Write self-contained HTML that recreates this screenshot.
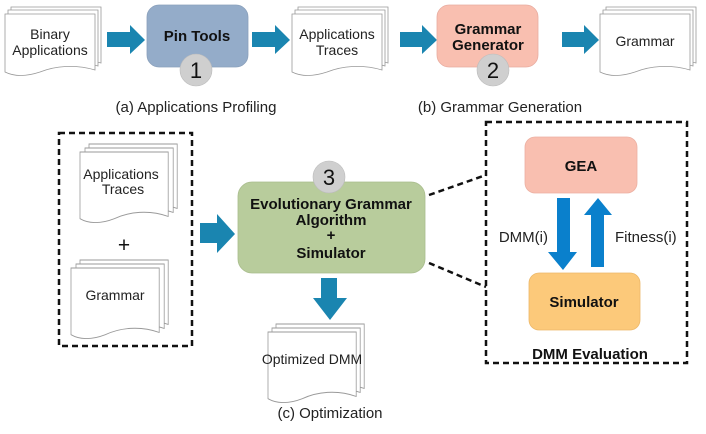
<!DOCTYPE html>
<html><head><meta charset="utf-8"><style>
html,body{margin:0;padding:0;background:#fff}
svg{display:block;font-family:"Liberation Sans",Arial,sans-serif}
</style></head><body>
<svg width="706" height="434" viewBox="0 0 706 434" xmlns="http://www.w3.org/2000/svg">
<defs>
<g id="page"><path d="M0,0 H90 V56 C70,50 50,52 35,58 C20,63 8,62 0,58 Z" fill="#fff" stroke="#999" stroke-width="0.8"/></g>
</defs>
<g transform="translate(11,7)"><use href="#page"/></g>
<g transform="translate(8,10)"><use href="#page"/></g>
<g transform="translate(5,14)"><use href="#page"/></g>
<text x="50" y="39" font-size="14" text-anchor="middle" fill="#222">Binary</text>
<text x="50" y="55" font-size="14" text-anchor="middle" fill="#222">Applications</text>

<g transform="translate(298,7)"><use href="#page"/></g>
<g transform="translate(295,10)"><use href="#page"/></g>
<g transform="translate(292,14)"><use href="#page"/></g>
<text x="337" y="39" font-size="14" text-anchor="middle" fill="#222">Applications</text>
<text x="337" y="55" font-size="14" text-anchor="middle" fill="#222">Traces</text>

<g transform="translate(606,7)"><use href="#page"/></g>
<g transform="translate(603,10)"><use href="#page"/></g>
<g transform="translate(600,14)"><use href="#page"/></g>
<text x="645" y="46" font-size="14" text-anchor="middle" fill="#222">Grammar</text>

<g fill="#1a85b0">
<path d="M107,32 H130 V25 L145,40 L130,54 V47 H107 Z"/>
<path d="M252,32 H275 V25 L290,40 L275,54 V47 H252 Z"/>
<path d="M400,32 H422 V25 L437,40 L422,54 V47 H400 Z"/>
<path d="M562,32 H584 V25 L599,40 L584,54 V47 H562 Z"/>
</g>

<rect x="147" y="5" width="101" height="62" rx="12" fill="#94acc9" stroke="#8aa0bb" stroke-width="0.8"/>
<text x="197" y="41" font-size="15" font-weight="bold" text-anchor="middle" fill="#111">Pin Tools</text>
<circle cx="196" cy="70" r="16" fill="#cfcfcf" stroke="#bbb" stroke-width="0.6"/>
<text x="196" y="78" font-size="22" text-anchor="middle" fill="#111">1</text>

<rect x="437" y="5" width="101" height="62" rx="12" fill="#f9bfb0" stroke="#e8aca0" stroke-width="0.8"/>
<text x="488" y="34" font-size="15" font-weight="bold" text-anchor="middle" fill="#111">Grammar</text>
<text x="488" y="50" font-size="15" font-weight="bold" text-anchor="middle" fill="#111">Generator</text>
<circle cx="493" cy="70" r="16" fill="#cfcfcf" stroke="#bbb" stroke-width="0.6"/>
<text x="493" y="78" font-size="22" text-anchor="middle" fill="#111">2</text>

<text x="196" y="112" font-size="15" text-anchor="middle" fill="#222">(a) Applications Profiling</text>
<text x="500" y="112" font-size="15" text-anchor="middle" fill="#222">(b) Grammar Generation</text>

<rect x="59" y="133" width="133" height="213" fill="none" stroke="#111" stroke-width="2.5" stroke-dasharray="6,4"/>
<g transform="translate(89,144)"><use href="#page" transform="scale(0.98,1.15)"/></g>
<g transform="translate(85,148)"><use href="#page" transform="scale(0.98,1.15)"/></g>
<g transform="translate(80,152)"><use href="#page" transform="scale(0.98,1.15)"/></g>
<text x="121" y="179" font-size="14" text-anchor="middle" fill="#222">Applications</text>
<text x="123" y="194" font-size="14" text-anchor="middle" fill="#222">Traces</text>
<text x="124" y="252" font-size="21" text-anchor="middle" fill="#111">+</text>
<g transform="translate(80,260)"><use href="#page" transform="scale(0.98,1.15)"/></g>
<g transform="translate(76,264)"><use href="#page" transform="scale(0.98,1.15)"/></g>
<g transform="translate(71,268)"><use href="#page" transform="scale(0.98,1.15)"/></g>
<text x="115" y="300" font-size="14" text-anchor="middle" fill="#222">Grammar</text>

<path d="M200,223 H217 V214 L235,234 L217,253 V243 H200 Z" fill="#1a85b0"/>

<rect x="238" y="182" width="187" height="91" rx="14" fill="#b8cc9c" stroke="#a8bc8c" stroke-width="0.8"/>
<circle cx="329" cy="177" r="16" fill="#cfcfcf" stroke="#bbb" stroke-width="0.6"/>
<text x="329" y="185" font-size="22" text-anchor="middle" fill="#111">3</text>
<text x="331" y="209" font-size="15" font-weight="bold" text-anchor="middle" fill="#111">Evolutionary Grammar</text>
<text x="331" y="225" font-size="15" font-weight="bold" text-anchor="middle" fill="#111">Algorithm</text>
<text x="331" y="240" font-size="15" font-weight="bold" text-anchor="middle" fill="#111">+</text>
<text x="331" y="258" font-size="15" font-weight="bold" text-anchor="middle" fill="#111">Simulator</text>

<path d="M321,278 H337 V298 H347 L330,320 L313,298 H321 Z" fill="#1a85b0"/>

<g transform="translate(276,324)"><use href="#page" transform="scale(0.98,1.15)"/></g>
<g transform="translate(272,328)"><use href="#page" transform="scale(0.98,1.15)"/></g>
<g transform="translate(268,332)"><use href="#page" transform="scale(0.98,1.15)"/></g>
<text x="312" y="364" font-size="14" text-anchor="middle" fill="#222">Optimized DMM</text>
<text x="330" y="418" font-size="15" text-anchor="middle" fill="#222">(c) Optimization</text>

<line x1="429" y1="195" x2="486" y2="175" stroke="#111" stroke-width="2.5" stroke-dasharray="6,4"/>
<line x1="429" y1="263" x2="486" y2="287" stroke="#111" stroke-width="2.5" stroke-dasharray="6,4"/>
<rect x="486" y="122" width="201" height="241" fill="none" stroke="#111" stroke-width="2.5" stroke-dasharray="6,4"/>

<rect x="525" y="137" width="112" height="56" rx="10" fill="#f9bfb0" stroke="#ecb0a2" stroke-width="0.8"/>
<text x="581" y="171" font-size="15" font-weight="bold" text-anchor="middle" fill="#111">GEA</text>
<rect x="529" y="273" width="111" height="57" rx="10" fill="#fcc97a" stroke="#ecb86a" stroke-width="0.8"/>
<text x="584" y="307" font-size="15" font-weight="bold" text-anchor="middle" fill="#111">Simulator</text>

<path d="M557,198 H570 V252 H577 L563,270 L548,252 H557 Z" fill="#0a80cc"/>
<path d="M591,267 H604 V215 H612 L598,198 L584,215 H591 Z" fill="#0a80cc"/>
<text x="548" y="242" font-size="15" text-anchor="end" fill="#222">DMM(i)</text>
<text x="615" y="242" font-size="15" fill="#222">Fitness(i)</text>
<text x="590" y="359" font-size="15" font-weight="bold" text-anchor="middle" fill="#111">DMM Evaluation</text>
</svg>
</body></html>
